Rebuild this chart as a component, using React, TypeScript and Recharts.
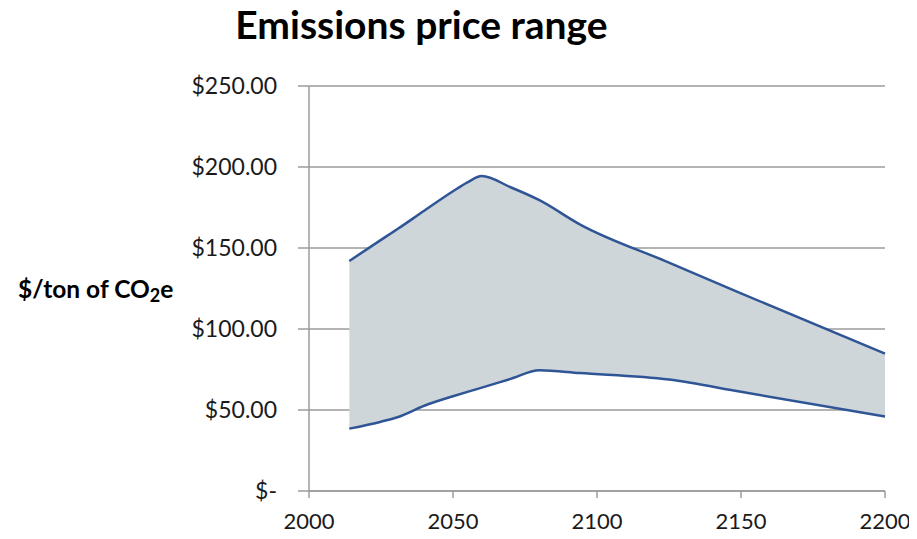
import React from "react";
import {
  ComposedChart,
  Area,
  Line,
  XAxis,
  YAxis,
  CartesianGrid,
} from "recharts";

const years = [2014, 2025, 2031, 2040, 2050, 2055, 2060, 2070, 2080, 2094, 2125, 2150, 2200];
const upper = [142, 155, 162, 173, 185, 190.5, 194.4, 187.5, 179.5, 164.6, 141, 122, 84.8];
const lower = [38.5, 42.8, 45.7, 52.6, 58.5, 61.2, 63.8, 69.2, 74.5, 72.8, 68.8, 61.2, 46];
const xTicks = [2000, 2050, 2100, 2150, 2200];
const yTicks = [0, 50, 100, 150, 200, 250];
const title = "Emissions price range";

const data = years.map((y, i) => ({
  year: y,
  upper: upper[i],
  lower: lower[i],
  range: [lower[i], upper[i]],
}));

const fmtY = (v: number) => (v === 0 ? "$-" : "$" + v.toFixed(2));

const W = 901;
const H = 531;
const FONT = "Lato, 'Open Sans', sans-serif";

export default function App() {
  return (
    <div style={{ position: "relative", width: W, height: 523, overflow: "visible" }}>
      <style>{`.recharts-wrapper, .recharts-surface { overflow: visible !important; }`}</style>
      <ComposedChart
        width={W}
        height={H}
        data={data}
        margin={{ top: 78, right: 24, bottom: 0, left: 181 }}
      >
        <CartesianGrid vertical={false} stroke="#9b9b9b" strokeWidth={1.5} />
        <XAxis
          dataKey="year"
          type="number"
          domain={[2000, 2200]}
          ticks={xTicks}
          height={48}
          tickSize={7}
          tickMargin={15}
          stroke="#9b9b9b"
          strokeWidth={1.5}
          tick={{ fill: "#1a1a1a", fontSize: 22, fontFamily: FONT }}
        />
        <YAxis
          type="number"
          domain={[0, 250]}
          ticks={yTicks}
          width={120}
          tickSize={11}
          tickMargin={21}
          tickFormatter={fmtY}
          stroke="#9b9b9b"
          strokeWidth={1.5}
          tick={{ fill: "#1a1a1a", fontSize: 23, fontFamily: FONT }}
        />
        <Area
          dataKey="range"
          type="monotone"
          fill="#CED6D9"
          fillOpacity={1}
          stroke="none"
          isAnimationActive={false}
        />
        <Line
          dataKey="upper"
          type="monotone"
          stroke="#2F5596"
          strokeWidth={2.5}
          dot={false}
          isAnimationActive={false}
        />
        <Line
          dataKey="lower"
          type="monotone"
          stroke="#2F5596"
          strokeWidth={2.5}
          dot={false}
          isAnimationActive={false}
        />
      </ComposedChart>
      <svg
        width={W}
        height={H}
        style={{ position: "absolute", left: 0, top: 0, pointerEvents: "none", overflow: "visible" }}
      >
        <text
          x={413.5}
          y={31}
          textAnchor="middle"
          fontFamily={FONT}
          fontWeight="bold"
          fontSize={39}
          fill="#000"
        >
          {title}
        </text>
        <text x={10} y={290} fontFamily={FONT} fontWeight="bold" fontSize={24.5} fill="#000">
          $/ton of CO
          <tspan fontSize={18} dy={4}>2</tspan>
          <tspan dy={-4}>e</tspan>
        </text>
      </svg>
    </div>
  );
}
